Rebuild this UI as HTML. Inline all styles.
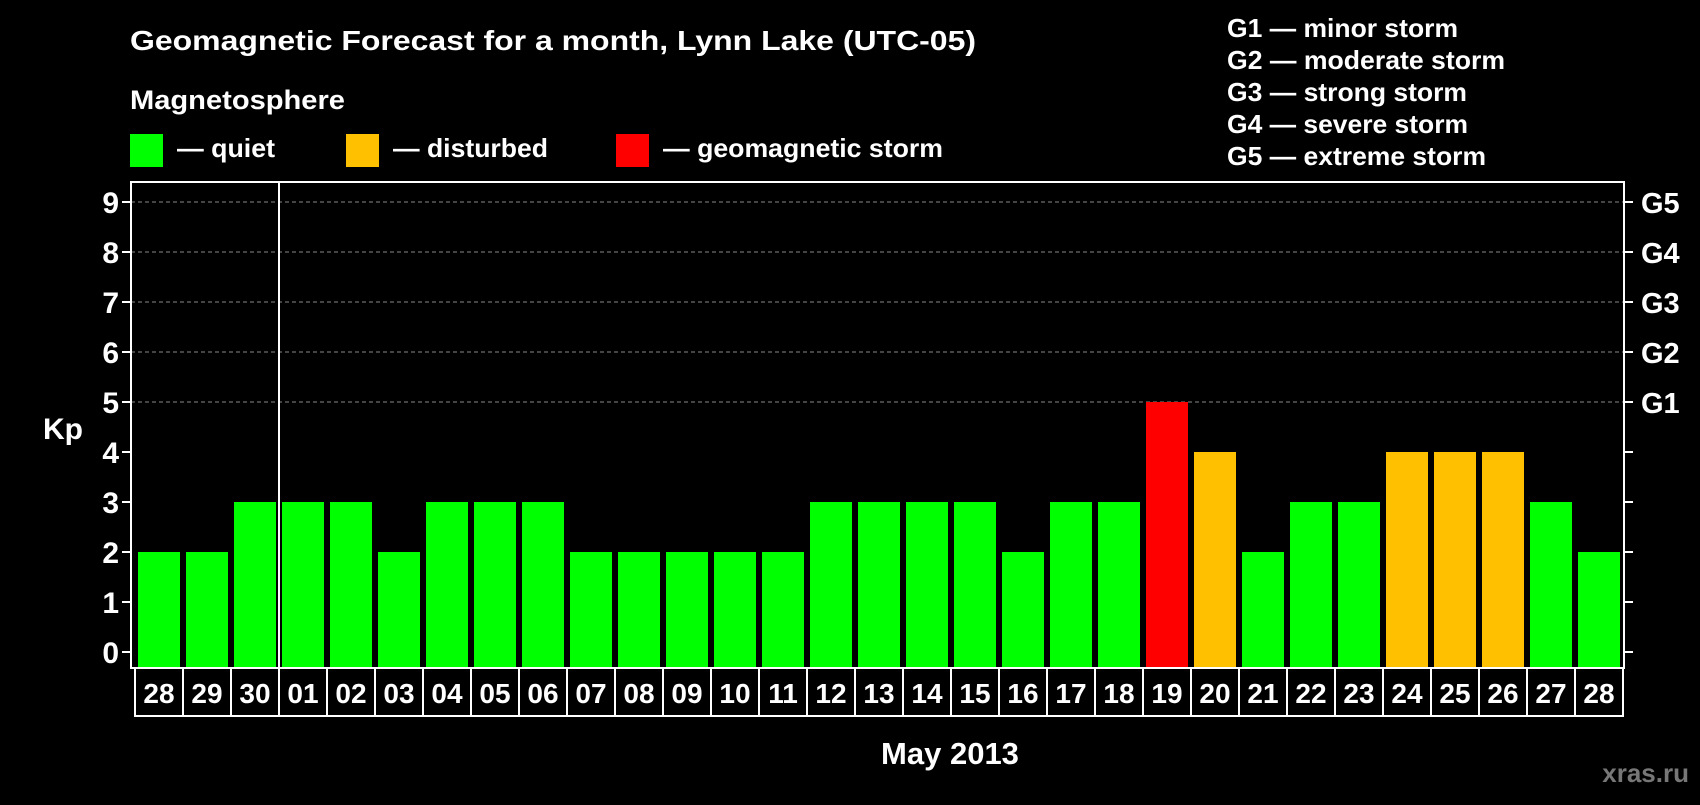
<!DOCTYPE html>
<html><head><meta charset="utf-8"><style>
body{margin:0;background:#000;width:1700px;height:800px;overflow:hidden;font-family:"Liberation Sans",Arial,sans-serif;font-weight:bold;color:#fff}
svg text{font-family:"Liberation Sans",Arial,sans-serif;font-weight:bold;fill:#fff}
</style></head><body>
<svg width="1700" height="800" id="chart">
<text x="130" y="50" font-size="28" textLength="846" lengthAdjust="spacingAndGlyphs">Geomagnetic Forecast for a month, Lynn Lake (UTC-05)</text>
<text x="130" y="109" font-size="27" textLength="215" lengthAdjust="spacingAndGlyphs">Magnetosphere</text>
<g><rect x="130" y="134" width="33" height="33" fill="#00ff00"/><text x="177" y="157" font-size="26" textLength="98" lengthAdjust="spacingAndGlyphs">— quiet</text></g>
<g><rect x="346" y="134" width="33" height="33" fill="#ffc000"/><text x="393" y="157" font-size="26" textLength="155" lengthAdjust="spacingAndGlyphs">— disturbed</text></g>
<g><rect x="616" y="134" width="33" height="33" fill="#ff0000"/><text x="663" y="157" font-size="26" textLength="280" lengthAdjust="spacingAndGlyphs">— geomagnetic storm</text></g>
<g font-size="26">
<text x="1227" y="37" textLength="231" lengthAdjust="spacingAndGlyphs">G1 — minor storm</text>
<text x="1227" y="69" textLength="278" lengthAdjust="spacingAndGlyphs">G2 — moderate storm</text>
<text x="1227" y="101" textLength="240" lengthAdjust="spacingAndGlyphs">G3 — strong storm</text>
<text x="1227" y="133" textLength="241" lengthAdjust="spacingAndGlyphs">G4 — severe storm</text>
<text x="1227" y="165" textLength="259" lengthAdjust="spacingAndGlyphs">G5 — extreme storm</text>
</g>
<text x="63" y="439" font-size="30" text-anchor="middle">Kp</text>
<text x="950" y="764" font-size="31" text-anchor="middle">May 2013</text>
<text x="1689" y="782" font-size="26" text-anchor="end" style="fill:#777">xras.ru</text>
<g id="grid"></g><g id="bars"></g><g id="axes"></g>
</svg>
<script>
const days=["28","29","30","01","02","03","04","05","06","07","08","09","10","11","12","13","14","15","16","17","18","19","20","21","22","23","24","25","26","27","28"];
const kp=[2,2,3,3,3,2,3,3,3,2,2,2,2,2,3,3,3,3,2,3,3,5,4,2,3,3,4,4,4,3,2];
const yTicks=[0,1,2,3,4,5,6,7,8,9];
const gLabels=["G1","G2","G3","G4","G5"];
const NS="http://www.w3.org/2000/svg";
const L=131,R=1624,T=182,B=668,x0=138,step=48,bw=42;
const y=v=>652-v*50;
const xb=i=>x0+i*step;
function mk(t,a,p){const e=document.createElementNS(NS,t);for(const k in a)e.setAttribute(k,a[k]);p.appendChild(e);return e;}
const grid=document.getElementById('grid'),bars=document.getElementById('bars'),axes=document.getElementById('axes');
yTicks.forEach(v=>{
 if(v>=5){const g=mk('line',{x1:L,x2:R,y1:y(v),y2:y(v),stroke:'#888','stroke-dasharray':'4,3','stroke-width':1},grid);
 
 }
 const t1=mk('line',{x1:L-9,x2:L,y1:y(v),y2:y(v),stroke:'#fff','stroke-width':2},axes);
 
 
 const t2=mk('line',{x1:R,x2:R+9,y1:y(v),y2:y(v),stroke:'#fff','stroke-width':2},axes);
 
 
 const lb=mk('text',{x:L-12,y:y(v)+11,'font-size':30,'text-anchor':'end'},axes);lb.textContent=v;
 
 
});
gLabels.forEach((g,i)=>{const t=mk('text',{x:R+17,y:y(5+i)+11,'font-size':29},axes);t.textContent=g;
 
 });
kp.forEach((v,i)=>{
 const c=v>=5?'#ff0000':v>=4?'#ffc000':'#00ff00';
 const r=mk('rect',{x:xb(i),y:y(v),width:bw,height:B-1-y(v),fill:c},bars);
 
 
 const bx=mk('rect',{x:xb(i)-3,y:B,width:step,height:48,fill:'none',stroke:'#fff','stroke-width':2},axes);
 
 
 const t=mk('text',{x:xb(i)+bw/2,y:B+35,'font-size':28,'text-anchor':'middle'},axes);t.textContent=days[i];
 
 
});
const fr=mk('rect',{x:L,y:T,width:R-L,height:B-T,fill:'none',stroke:'#fff','stroke-width':2},axes);


const sep=mk('line',{x1:279,x2:279,y1:T,y2:B,stroke:'#fff','stroke-width':2},axes);


</script>
</body></html>
